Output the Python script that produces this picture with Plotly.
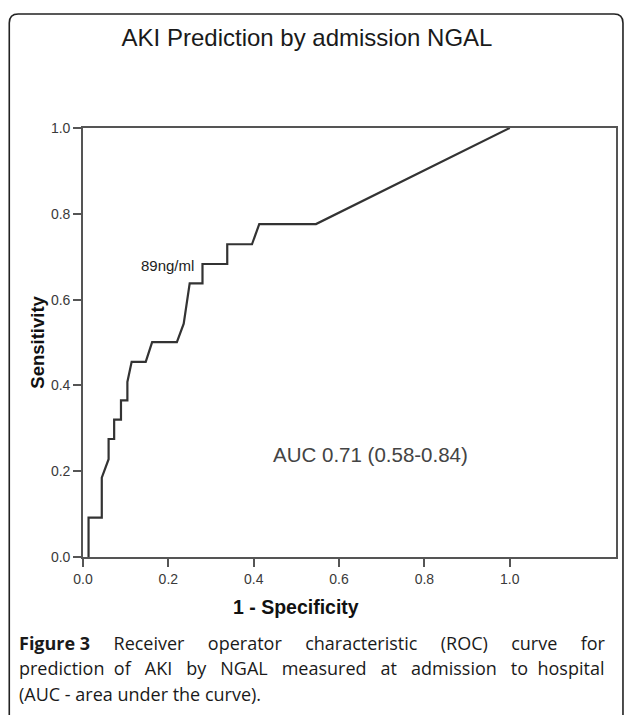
import plotly.graph_objects as go

# ROC curve points (1 - specificity, sensitivity)
fpr = [0.013, 0.013, 0.044, 0.044, 0.060, 0.060, 0.073, 0.073, 0.089, 0.089,
       0.104, 0.104, 0.114, 0.147, 0.162, 0.220, 0.236, 0.250, 0.280, 0.280,
       0.338, 0.338, 0.396, 0.413, 0.546, 1.0]
tpr = [0.0, 0.092, 0.092, 0.185, 0.228, 0.275, 0.275, 0.320, 0.320, 0.365,
       0.365, 0.408, 0.455, 0.455, 0.501, 0.501, 0.544, 0.638, 0.638, 0.683,
       0.683, 0.729, 0.729, 0.776, 0.776, 1.0]

tick_vals = [0.0, 0.2, 0.4, 0.6, 0.8, 1.0]
tick_text = ["0.0", "0.2", "0.4", "0.6", "0.8", "1.0"]

title_text = "AKI Prediction by admission NGAL"
x_title = "1 - Specificity"
y_title = "Sensitivity"
cutoff_label = "89ng/ml"
cutoff_pos = (0.265, 0.68)
auc_label = "AUC 0.71 (0.58-0.84)"
auc_pos = (0.441, 0.238)

NB = "&nbsp;"
caption_lines = [
    "<b>Figure" + NB + "3</b>" + NB * 5 + (NB * 5).join(
        ["Receiver", "operator", "characteristic", "(ROC)", "curve", "for"]),
    "prediction" + NB * 2 + (NB * 3).join(["of", "AKI", "by", "NGAL", "measured",
                                           "at", "admission", "to"])
    + NB * 2 + "hospital",
    "(AUC - area under the curve).",
]
caption_y_px = [643, 668, 694]

W, H = 629, 715
L, R, T, B = 83, 618, 128, 557
pw, ph = R - L, B - T


def px(x):
    return (x - L) / pw


def py(y):
    return (B - y) / ph


ARIAL = "Liberation Sans, Arial, sans-serif"
AX = "#555555"
TXT = "#3a3a3a"

fig = go.Figure()
fig.add_trace(go.Scatter(x=fpr, y=tpr, mode="lines",
                         line=dict(color="#333333", width=2.2),
                         showlegend=False, hoverinfo="skip"))

axis_common = dict(showgrid=False, zeroline=False, showline=True,
                   linecolor=AX, linewidth=1.6, mirror=True,
                   ticks="outside", ticklen=8, tickwidth=1.6, tickcolor=AX,
                   tickfont=dict(family=ARIAL, size=14, color=TXT),
                   tickvals=tick_vals, ticktext=tick_text)

fig.update_xaxes(range=[0, 1.249], **axis_common)
fig.update_yaxes(range=[0, 1.0], **axis_common)

fig.add_annotation(x=cutoff_pos[0], y=cutoff_pos[1], text=cutoff_label,
                   showarrow=False, xanchor="right", yanchor="middle",
                   font=dict(family=ARIAL, size=15, color="#222222"))
fig.add_annotation(x=auc_pos[0], y=auc_pos[1], text=auc_label,
                   showarrow=False, xanchor="left", yanchor="middle",
                   font=dict(family=ARIAL, size=20.5, color="#444444"))

fig.add_annotation(x=0.5, xref="x", y=py(607), yref="paper", text=x_title,
                   showarrow=False, xanchor="center", yanchor="middle",
                   font=dict(family=ARIAL, size=19.5, color="#111111", weight="bold"))
fig.add_annotation(x=px(37), xref="paper", y=0.5, yref="y", text=y_title,
                   textangle=-90, showarrow=False, xanchor="center", yanchor="middle",
                   font=dict(family=ARIAL, size=18.5, color="#111111", weight="bold"))

for line, ypx in zip(caption_lines, caption_y_px):
    fig.add_annotation(x=px(17), xref="paper", y=py(ypx), yref="paper", text=line,
                       showarrow=False, xanchor="left", yanchor="middle", align="left",
                       font=dict(family="Open Sans, Noto Sans, sans-serif", size=18,
                                 color="#1a1a1a"))

# outer rounded frame (open at the bottom)
fl, fr, ft, fb, rr = 9, 625, 14, 730, 9
path = (f"M {px(fl)},{py(fb)} L {px(fl)},{py(ft + rr)} "
        f"Q {px(fl)},{py(ft)} {px(fl + rr)},{py(ft)} "
        f"L {px(fr - rr)},{py(ft)} Q {px(fr)},{py(ft)} {px(fr)},{py(ft + rr)} "
        f"L {px(fr)},{py(fb)}")
fig.add_shape(type="path", xref="paper", yref="paper", path=path,
              line=dict(color="#222222", width=1.6))

fig.update_layout(
    width=W, height=H,
    margin=dict(l=L, r=W - R, t=T, b=H - B, pad=0),
    paper_bgcolor="white", plot_bgcolor="white",
    title=dict(text=title_text, x=307 / W, xanchor="center",
               y=1 - 38 / H, yanchor="middle", yref="container",
               font=dict(family=ARIAL, size=24, color="#1a1a1a")),
)

fig.write_html("out.html",
               config={"displayModeBar": False},
               post_script="document.body.style.margin='0';"
                           "document.body.style.overflow='hidden';")
